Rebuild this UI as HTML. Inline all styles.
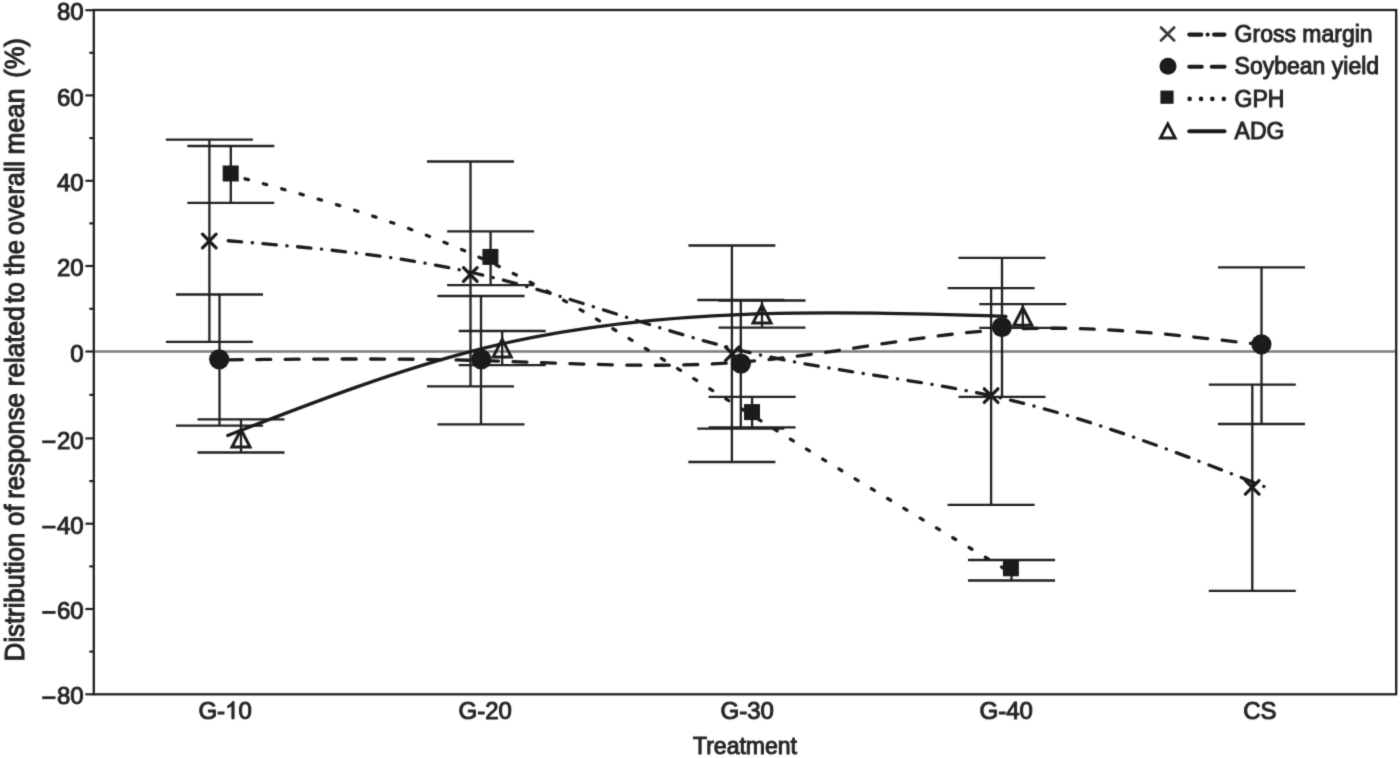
<!DOCTYPE html>
<html><head><meta charset="utf-8"><title>Chart</title><style>
html,body{margin:0;padding:0;background:#fff;overflow:hidden;}svg{display:block;}
text{font-family:"Liberation Sans",sans-serif;fill:#262626;stroke:#262626;stroke-width:1.0px;}
</style></head><body>
<svg width="1400" height="758" viewBox="0 0 1400 758">
<defs><filter id="bl" x="0" y="0" width="1400" height="758" filterUnits="userSpaceOnUse" color-interpolation-filters="sRGB"><feConvolveMatrix order="5" kernelMatrix="0.00000 0.00013 0.00070 0.00013 0.00000 0.00013 0.01910 0.09973 0.01910 0.00013 0.00070 0.09973 0.52080 0.09973 0.00070 0.00013 0.01910 0.09973 0.01910 0.00013 0.00000 0.00013 0.00070 0.00013 0.00000" preserveAlpha="true" edgeMode="duplicate"/></filter></defs>
<g filter="url(#bl)">
<rect x="0" y="0" width="1400" height="758" fill="#fff"/>
<line x1="95" y1="351.5" x2="1395" y2="351.5" stroke="#7c7c7c" stroke-width="2.4"/>
<g stroke="#202020" stroke-width="2.3" fill="none">
<path d="M209.4,139.6V341.8M165.9,139.6H252.9M165.9,341.8H252.9"/>
<path d="M470.5,161.5V386.4M427.0,161.5H514.0M427.0,386.4H514.0"/>
<path d="M731.9,245.5V462.0M688.4,245.5H775.4M688.4,462.0H775.4"/>
<path d="M991.1,288.2V504.9M947.6,288.2H1034.6M947.6,504.9H1034.6"/>
<path d="M1252.3,384.6V590.9M1208.8,384.6H1295.8M1208.8,590.9H1295.8"/>
<path d="M219.5,294.5V425.7M176.0,294.5H263.0M176.0,425.7H263.0"/>
<path d="M481.0,296.0V424.3M437.5,296.0H524.5M437.5,424.3H524.5"/>
<path d="M740.8,300.0V428.6M697.3,300.0H784.3M697.3,428.6H784.3"/>
<path d="M1002.0,257.8V396.9M958.5,257.8H1045.5M958.5,396.9H1045.5"/>
<path d="M1261.5,267.4V424.0M1218.0,267.4H1305.0M1218.0,424.0H1305.0"/>
<path d="M230.8,146.0V202.9M187.3,146.0H274.3M187.3,202.9H274.3"/>
<path d="M490.6,231.4V285.1M447.1,231.4H534.1M447.1,285.1H534.1"/>
<path d="M752.1,396.9V427.4M708.6,396.9H795.6M708.6,427.4H795.6"/>
<path d="M1011.5,560.0V580.5M968.0,560.0H1055.0M968.0,580.5H1055.0"/>
<path d="M241.0,419.4V452.5M197.5,419.4H284.5M197.5,452.5H284.5"/>
<path d="M502.2,331.0V365.2M458.7,331.0H545.7M458.7,365.2H545.7"/>
<path d="M762.0,300.5V327.6M718.5,300.5H805.5M718.5,327.6H805.5"/>
<path d="M1022.8,304.1V327.9M979.3,304.1H1066.3M979.3,327.9H1066.3"/>
</g>
<g fill="none" stroke="#1b1b1b" stroke-width="3.3">
<path d="M224.50,240.46 C311.33,247.58 398.17,254.70 485.00,275.56 C571.83,296.42 658.67,331.01 745.50,351.60 C832.33,372.19 919.17,378.76 1006.00,399.07 C1092.83,419.38 1179.67,453.41 1266.50,487.44" stroke-linecap="round" stroke-dasharray="13.5 10.6 0.2 10.5" stroke-dashoffset="31.1"/>
<path d="M224.50,359.85 C311.33,359.00 398.17,358.15 485.00,360.64 C571.83,363.13 658.67,368.96 745.50,361.78 C832.33,354.60 919.17,334.40 1006.00,329.50 C1092.83,324.60 1179.67,335.00 1266.50,345.40" stroke-linecap="round" stroke-dasharray="14 14.476" stroke-dashoffset="24.73"/>
<path d="M224.50,173.28 C311.33,196.56 398.17,219.84 485.00,259.90 C571.83,299.96 658.67,356.82 745.50,411.23 C832.33,465.64 919.17,517.62 1006.00,569.59" stroke-linecap="round" stroke-dasharray="3.4 15.595" stroke-dashoffset="16.65"/>
<path d="M224.50,436.79 C311.33,403.01 398.17,369.22 485.00,347.84 C571.83,326.46 658.67,317.47 745.50,314.31 C832.33,311.15 919.17,313.80 1006.00,316.45" stroke-linecap="round" stroke-dasharray="1200 3.5" stroke-dashoffset="-3.5"/>
</g>
<g fill="#1b1b1b" stroke="#1b1b1b">
<path d="M202.5,234.2L216.1,247.8M216.1,234.2L202.5,247.8" stroke-width="3.3" stroke-linecap="round" fill="none"/>
<path d="M463.5,267.7L477.1,281.3M477.1,267.7L463.5,281.3" stroke-width="3.3" stroke-linecap="round" fill="none"/>
<path d="M725.5,347.0L739.1,360.6M739.1,347.0L725.5,360.6" stroke-width="3.3" stroke-linecap="round" fill="none"/>
<path d="M984.3,388.8L997.9,402.4M997.9,388.8L984.3,402.4" stroke-width="3.3" stroke-linecap="round" fill="none"/>
<path d="M1245.4,480.6L1259.0,494.2M1259.0,480.6L1245.4,494.2" stroke-width="3.3" stroke-linecap="round" fill="none"/>
<circle cx="219.2" cy="359.3" r="10.1" stroke="none"/>
<circle cx="481.3" cy="359.4" r="10.1" stroke="none"/>
<circle cx="740.9" cy="363.6" r="10.1" stroke="none"/>
<circle cx="1001.9" cy="327.1" r="10.1" stroke="none"/>
<circle cx="1261.4" cy="344.4" r="10.1" stroke="none"/>
<rect x="222.7" y="165.5" width="16" height="16" stroke="none"/>
<rect x="482.4" y="248.9" width="16" height="16" stroke="none"/>
<rect x="744.0" y="404.1" width="16" height="16" stroke="none"/>
<rect x="1002.9" y="560.3" width="16" height="16" stroke="none"/>
<path d="M241.0,429.5L250.0,447.0L232.0,447.0Z" fill="none" stroke-width="3" stroke-linejoin="miter"/>
<path d="M502.2,339.4L511.2,356.9L493.2,356.9Z" fill="none" stroke-width="3" stroke-linejoin="miter"/>
<path d="M762.0,305.4L771.0,322.9L753.0,322.9Z" fill="none" stroke-width="3" stroke-linejoin="miter"/>
<path d="M1022.8,307.8L1031.8,325.3L1013.8,325.3Z" fill="none" stroke-width="3" stroke-linejoin="miter"/>
</g>
<rect x="93.8" y="10" width="1302.4" height="684.3" fill="none" stroke="#202020" stroke-width="2.3"/>
<g stroke="#202020" stroke-width="2.2">
<line x1="85.4" y1="10.2" x2="93.8" y2="10.2"/>
<line x1="85.4" y1="95.4" x2="93.8" y2="95.4"/>
<line x1="85.4" y1="180.8" x2="93.8" y2="180.8"/>
<line x1="85.4" y1="266.0" x2="93.8" y2="266.0"/>
<line x1="85.4" y1="351.5" x2="93.8" y2="351.5"/>
<line x1="85.4" y1="438.4" x2="93.8" y2="438.4"/>
<line x1="85.4" y1="523.7" x2="93.8" y2="523.7"/>
<line x1="85.4" y1="609.0" x2="93.8" y2="609.0"/>
<line x1="85.4" y1="694.3" x2="93.8" y2="694.3"/>
<line x1="89.3" y1="52.8" x2="93.8" y2="52.8"/>
<line x1="89.3" y1="138.1" x2="93.8" y2="138.1"/>
<line x1="89.3" y1="223.4" x2="93.8" y2="223.4"/>
<line x1="89.3" y1="308.8" x2="93.8" y2="308.8"/>
<line x1="89.3" y1="394.9" x2="93.8" y2="394.9"/>
<line x1="89.3" y1="481.1" x2="93.8" y2="481.1"/>
<line x1="89.3" y1="566.4" x2="93.8" y2="566.4"/>
<line x1="89.3" y1="651.6" x2="93.8" y2="651.6"/>
</g>
<g font-size="24" text-anchor="end">
<text x="83.7" y="20.3">80</text>
<text x="83.7" y="105.5">60</text>
<text x="83.7" y="190.9">40</text>
<text x="83.7" y="276.1">20</text>
<text x="83.7" y="361.6">0</text>
<text x="83.7" y="448.5">20</text>
<text x="83.7" y="533.8">40</text>
<text x="83.7" y="619.1">60</text>
<text x="83.7" y="704.4">80</text>
</g>
<g stroke="#262626" stroke-width="2.8">
<line x1="42.2" y1="441.8" x2="55.6" y2="441.8"/>
<line x1="42.2" y1="527.1" x2="55.6" y2="527.1"/>
<line x1="42.2" y1="612.4" x2="55.6" y2="612.4"/>
<line x1="42.2" y1="697.7" x2="55.6" y2="697.7"/>
</g>
<g font-size="24" text-anchor="middle">
<text x="485.2" y="718.8">G-20</text>
<text x="747.2" y="718.8">G-30</text>
<text x="1006.3" y="718.8">G-40</text>
<text x="1259.8" y="718.8">CS</text>
</g>
<text x="198.42" y="718.8" font-size="24">G-</text>
<text x="238.44" y="718.8" font-size="24">0</text>
<path transform="translate(225.10,718.8) scale(0.011719,-0.011719)" d="M763,0 L583,0 L583,1147 C540,1106 483,1065 413,1024 C343,983 280,953 223,934 L223,1108 C323,1155 410,1212 485,1278 C560,1344 613,1408 644,1471 L763,1471 Z" fill="#262626" stroke="#262626" stroke-width="85.3"/>
<text x="745" y="753.5" font-size="23" text-anchor="middle">Treatment</text>
<text transform="translate(24.2,661.13) rotate(-90) scale(1,1.08)" font-size="25.42" textLength="128.42" lengthAdjust="spacingAndGlyphs">Distribution</text>
<text transform="translate(24.2,525.65) rotate(-90) scale(1,1.08)" font-size="25.42">of</text>
<text transform="translate(24.2,498.73) rotate(-90) scale(1,1.08)" font-size="25.42" textLength="105.59" lengthAdjust="spacingAndGlyphs">response</text>
<text transform="translate(24.2,386.25) rotate(-90) scale(1,1.08)" font-size="25.42" textLength="79.94" lengthAdjust="spacingAndGlyphs">related</text>
<text transform="translate(24.2,303.36) rotate(-90) scale(1,1.08)" font-size="25.42">to</text>
<text transform="translate(24.2,275.40) rotate(-90) scale(1,1.08)" font-size="25.42">the</text>
<text transform="translate(24.2,234.88) rotate(-90) scale(1,1.08)" font-size="25.42" textLength="73.79" lengthAdjust="spacingAndGlyphs">overall</text>
<text transform="translate(24.2,154.46) rotate(-90) scale(1,1.08)" font-size="25.42" textLength="65.78" lengthAdjust="spacingAndGlyphs">mean</text>
<text transform="translate(24.2,77.72) rotate(-90) scale(1,1.08)" font-size="25.42">(%)</text>
<g font-size="23">
<text x="1234.6" y="42.1">Gross margin</text>
<text x="1234.6" y="74.3">Soybean yield</text>
<text x="1234.6" y="107.0">GPH</text>
<text x="1234.6" y="139.1">ADG</text>
</g>
<g stroke="#1b1b1b" stroke-width="4.1" fill="none" stroke-linecap="round">
<path d="M1189.3,34.6H1201.3M1207.6,34.6H1207.7M1214,34.6H1224.5"/>
<path d="M1189.3,66.8H1201.8M1211.8,66.8H1224.5"/>
<path d="M1189.6,98.9h0.05M1201,98.9h0.05M1212.3,98.9h0.05M1223.8,98.9h0.05" stroke-width="4.6"/>
<path d="M1189.3,131.2H1224.5"/>
</g>
<g fill="#1b1b1b" stroke="#1b1b1b">
<path d="M1161.0,27.6L1174.1999999999998,40.4M1174.1999999999998,27.6L1161.0,40.4" stroke-width="2.8" stroke-linecap="round" fill="none" stroke="#3a3a3a"/>
<circle cx="1168" cy="66.2" r="8.5" stroke="none"/>
<rect x="1160.4" y="90.60000000000001" width="13.2" height="13.2" stroke="none"/>
<path d="M1167.8,123.89999999999999L1175.2,138.0L1160.4,138.0Z" fill="none" stroke-width="2.9"/>
</g>
</g></svg></body></html>
